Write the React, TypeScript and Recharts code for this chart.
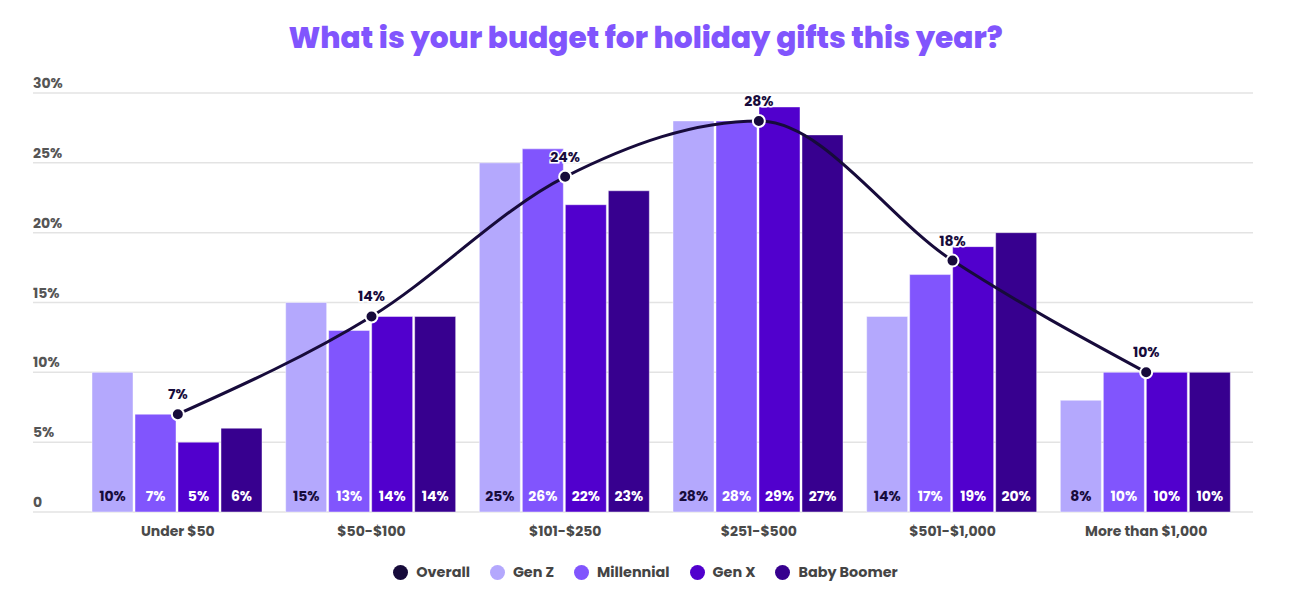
import React from "react";
import {
  ComposedChart,
  Bar,
  Line,
  XAxis,
  YAxis,
  CartesianGrid,
  LabelList,
} from "recharts";

const categories = ["Under $50", "$50-$100", "$101-$250", "$251-$500", "$501-$1,000", "More than $1,000"];
const overall = [7, 14, 24, 28, 18, 10];
const genZ = [10, 15, 25, 28, 14, 8];
const millennial = [7, 13, 26, 28, 17, 10];
const genX = [5, 14, 22, 29, 19, 10];
const boomer = [6, 14, 23, 27, 20, 10];
const yTicks = [0, 5, 10, 15, 20, 25, 30];

const FONT = "Poppins, Inter, 'Noto Sans', sans-serif";
const DARK = "#170b3b";

const series = [
  { key: "genZ", name: "Gen Z", color: "#b4a8fd", labelColor: DARK },
  { key: "millennial", name: "Millennial", color: "#8155fd", labelColor: "#ffffff" },
  { key: "genX", name: "Gen X", color: "#5100cd", labelColor: "#ffffff" },
  { key: "boomer", name: "Baby Boomer", color: "#37008f", labelColor: "#ffffff" },
];

const data = categories.map((c, i) => ({
  category: c,
  overall: overall[i],
  genZ: genZ[i],
  millennial: millennial[i],
  genX: genX[i],
  boomer: boomer[i],
}));

const legendItems = [{ name: "Overall", color: DARK }, ...series.map((s) => ({ name: s.name, color: s.color }))];

const YTick = (props: any) => {
  const { x, y, payload } = props;
  return (
    <text x={x} y={y - 5} textAnchor="start" fill="#555555" fontSize={14} fontWeight={700} fontFamily={FONT}>
      {payload.value === 0 ? "0" : `${payload.value}%`}
    </text>
  );
};

const XTick = (props: any) => {
  const { x, y, payload } = props;
  return (
    <text x={x} y={y + 16} textAnchor="middle" fill="#4a4a4a" fontSize={14} fontWeight={700} fontFamily={FONT}>
      {payload.value}
    </text>
  );
};

const makeBarLabel = (color: string) => (props: any) => {
  const { x, y, width, height, value } = props;
  return (
    <text
      x={x + width / 2}
      y={y + height - 11}
      textAnchor="middle"
      fill={color}
      fontSize={14}
      fontWeight={700}
      fontFamily={FONT}
    >
      {`${value}%`}
    </text>
  );
};

const LineLabel = (props: any) => {
  const { x, y, value } = props;
  return (
    <text
      x={x}
      y={y - 15}
      textAnchor="middle"
      fill={DARK}
      fontSize={14}
      fontWeight={700}
      fontFamily={FONT}
      stroke="#ffffff"
      strokeWidth={3}
      paintOrder="stroke"
    >
      {`${value}%`}
    </text>
  );
};

export default function App() {
  return (
    <div style={{ position: "relative", width: 1275, height: 582, fontFamily: FONT }}>
      <div
        style={{
          position: "absolute",
          top: 11,
          left: 0,
          width: 1275,
          textAlign: "center",
          color: "#8155fd",
          fontSize: 29.6,
          fontWeight: 800,
          fontFamily: FONT,
          lineHeight: "38px",
        }}
      >
        What is your budget for holiday gifts this year?
      </div>
      <ComposedChart
        width={1275}
        height={582}
        data={data}
        margin={{ top: 85, right: 30, bottom: 48, left: 25 }}
        barCategoryGap={11}
        barGap={2}
      >
        <CartesianGrid horizontal vertical={false} stroke="#e3e3e3" strokeWidth={1.5} />
        <XAxis
          dataKey="category"
          axisLine={false}
          tickLine={false}
          padding={{ left: 48, right: 10 }}
          tick={<XTick />}
          height={30}
          interval={0}
        />
        <YAxis
          domain={[0, 30]}
          ticks={yTicks}
          width={60}
          mirror
          axisLine={false}
          tickLine={false}
          tickSize={0}
          tickMargin={0}
          tick={<YTick />}
          interval={0}
        />
        {series.map((s) => (
          <Bar
            key={s.key}
            dataKey={s.key}
            name={s.name}
            fill={s.color}
            stroke="#ffffff"
            strokeOpacity={0.45}
            strokeWidth={1}
            isAnimationActive={false}
          >
            <LabelList dataKey={s.key} content={makeBarLabel(s.labelColor)} />
          </Bar>
        ))}
        <Line
          dataKey="overall"
          name="Overall"
          type="monotone"
          stroke={DARK}
          strokeWidth={3}
          dot={{ r: 6, fill: DARK, stroke: "#ffffff", strokeWidth: 2 }}
          activeDot={false}
          isAnimationActive={false}
        >
          <LabelList dataKey="overall" content={<LineLabel />} />
        </Line>
      </ComposedChart>
      <div
        style={{
          position: "absolute",
          top: 554,
          left: 0,
          width: 1275,
          display: "flex",
          justifyContent: "center",
          gap: 20,
          fontFamily: FONT,
          fontSize: 14.4,
          fontWeight: 700,
          color: "#444444",
        }}
      >
        {legendItems.map((it) => (
          <div key={it.name} style={{ display: "flex", alignItems: "center", gap: 8 }}>
            <span
              style={{
                display: "inline-block",
                width: 15,
                height: 15,
                borderRadius: "50%",
                background: it.color,
              }}
            />
            <span>{it.name}</span>
          </div>
        ))}
      </div>
    </div>
  );
}
